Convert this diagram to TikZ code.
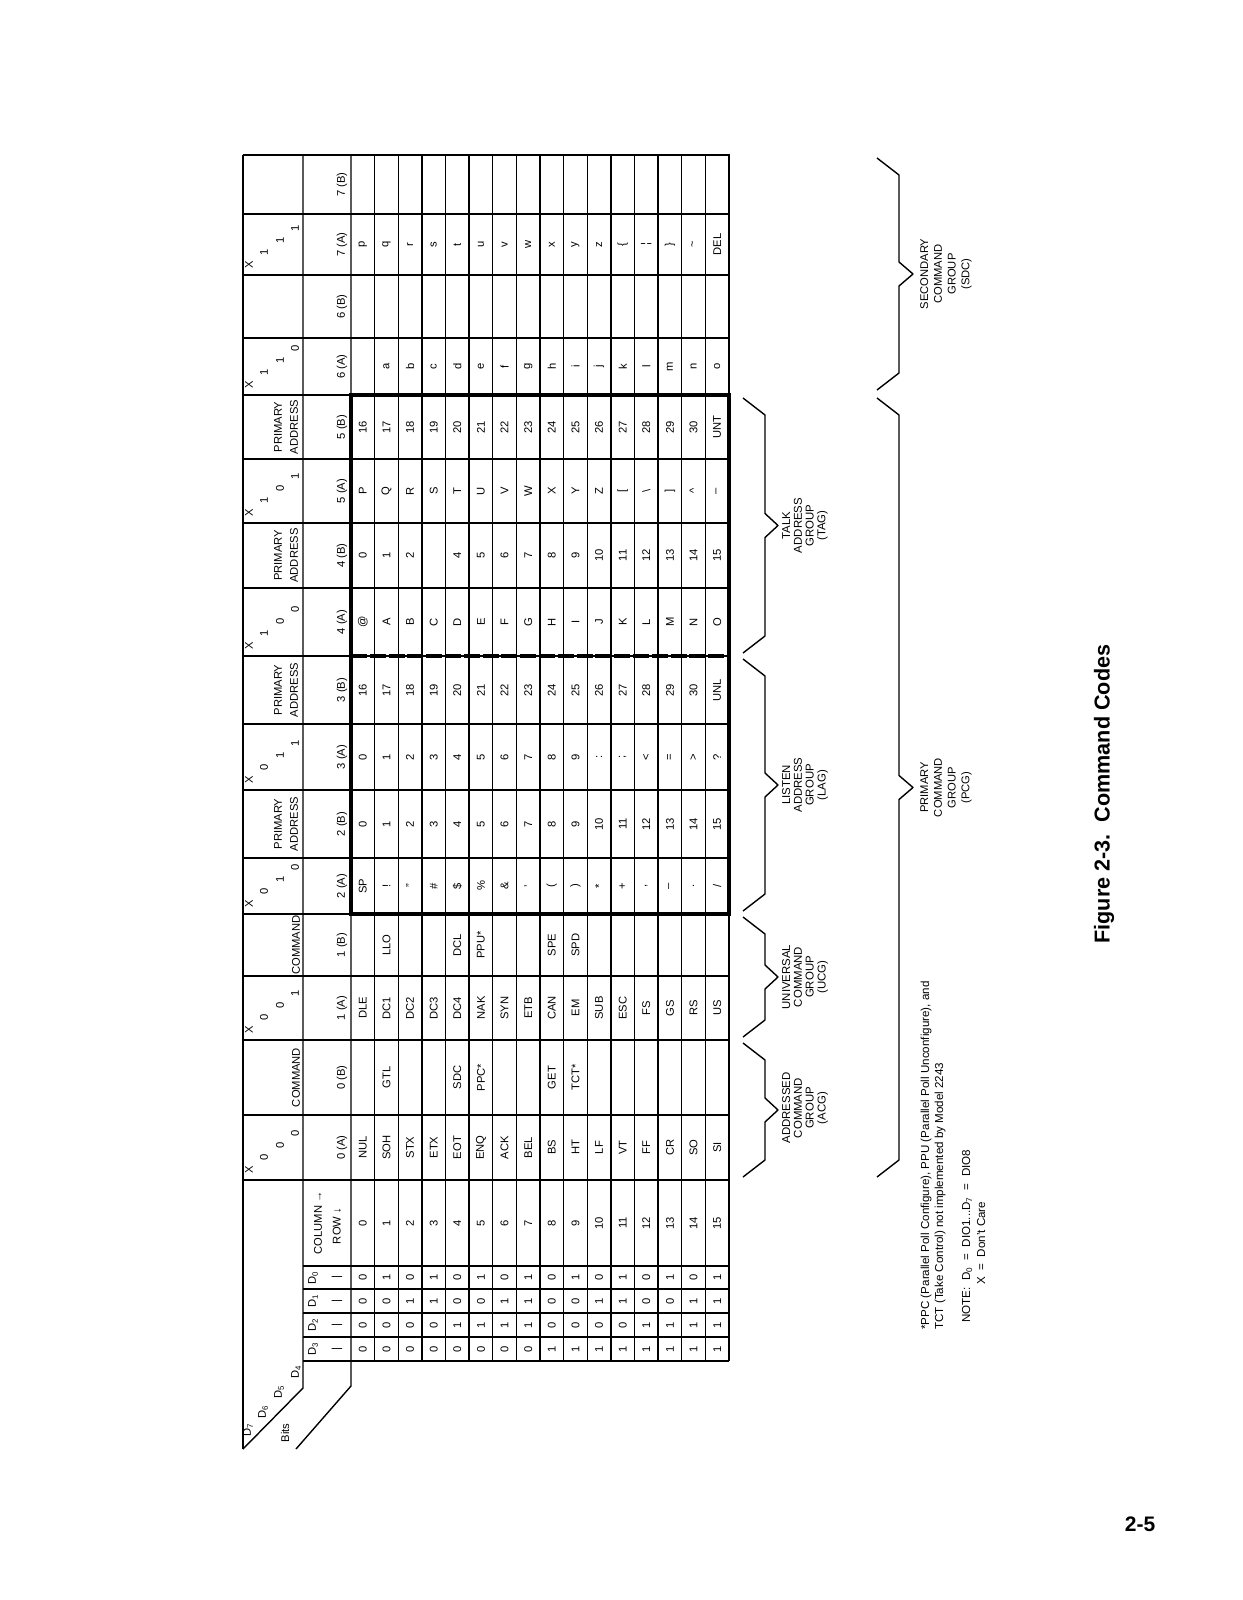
\documentclass[tikz,border=0pt]{standalone}
\usepackage{fontspec}
\setmainfont{Liberation Sans}
\begin{document}
\begin{tikzpicture}[x=0.5pt,y=-0.5pt,
  grid/.style={line width=0.7pt},
  boldline/.style={line width=1.7pt},
  txt/.style={rotate=90, inner sep=0pt, font=\fontsize{5.6}{6.6}\selectfont},
  hdr/.style={rotate=90, inner sep=0pt, align=center, font=\fontsize{5.6}{8}\selectfont},
  brlabel/.style={rotate=90, inner sep=0pt, align=center, font=\fontsize{5.7}{5.9}\selectfont},
  brlabelbig/.style={rotate=90, inner sep=0pt, align=center, font=\fontsize{5.6}{6.9}\selectfont},
  note/.style={rotate=90, inner sep=0pt, anchor=west, font=\fontsize{5.8}{6.5}\selectfont},
  bracestyle/.style={line width=0.7pt, line join=round}]
\fill[white] (0,0) rectangle (1242,1600);
\useasboundingbox (0,0) rectangle (1242,1600);

% ---------- grid ----------
\draw[grid] (243,155) -- (729,155) -- (729,1361);
\draw[grid] (243,155) -- (243,1449);
\draw[grid] (303,155) -- (303,1388) -- (243,1449);
\draw[grid] (351,155) -- (351,1386) -- (296,1449);
\foreach \k in {1,...,15} \draw[grid] ({351+23.625*\k},155) -- ({351+23.625*\k},1361);
\foreach \y in {214,275,338,395,459,523,588,656,724,790,858,914,976,1040,1115,1180}
  \draw[grid] (243,\y) -- (729,\y);
\foreach \y in {1266,1289,1313,1337,1361} \draw[grid] (303,\y) -- (729,\y);
% bold box
\draw[boldline] (351,395) rectangle (729,914);
\draw[boldline, dash pattern=on 8pt off 1.4pt] (351,656) -- (729,656);

% ---------- header row 1 ----------
\foreach \yb/\a/\b/\c in {1180/0/0/0,1040/0/0/1,914/0/1/0,790/0/1/1,656/1/0/0,523/1/0/1,395/1/1/0,275/1/1/1}{
  \node[txt] at (249,\yb-10) {X};
  \node[txt] at (264,\yb-23) {\a};
  \node[txt] at (280,\yb-35) {\b};
  \node[txt] at (295,\yb-47) {\c};
}
\node[txt] at (296,1077.5) {COMMAND};
\node[txt] at (296,945) {COMMAND};
\foreach \yc in {824,690,555.5,427}
  \node[hdr] at (286,\yc) {PRIMARY\\ADDRESS};

% ---------- header row 2 ----------
\foreach \lab/\yc in {7 (B)/184.5,7 (A)/244.5,6 (B)/306.5,6 (A)/366.5,5 (B)/427,5 (A)/491,4 (B)/555.5,4 (A)/622,3 (B)/690,3 (A)/757,2 (B)/824,2 (A)/886,1 (B)/945,1 (A)/1008,0 (B)/1077.5,0 (A)/1147.5}
  \node[txt] at (342,\yc) {\lab};
\node[txt] at (318,1223) {COLUMN →};
\node[txt] at (337,1226) {ROW ↓};
\foreach \d/\yc in {0/1277.5,1/1301,2/1325,3/1349}{
  \node[txt] at (313,\yc) {D\textsubscript{\d}};
  \node[txt] at (337,\yc) {|};
}
% bits corner
\node[txt] at (248,1430) {D\textsubscript{7}};
\node[txt] at (263,1412) {D\textsubscript{6}};
\node[txt] at (279,1392) {D\textsubscript{5}};
\node[txt] at (296,1372) {D\textsubscript{4}};
\node[txt] at (285,1433) {Bits};

% ---------- body ----------
\foreach \i in {0,...,15}{
  \pgfmathsetmacro\xr{362.8125+23.625*\i}
  \pgfmathtruncatemacro\bitA{mod(\i,2)}
  \pgfmathtruncatemacro\bitB{mod(floor(\i/2),2)}
  \pgfmathtruncatemacro\bitC{mod(floor(\i/4),2)}
  \pgfmathtruncatemacro\bitD{mod(floor(\i/8),2)}
  \node[txt] at (\xr,1223) {\i};
  \node[txt] at (\xr,1277.5) {\bitA};
  \node[txt] at (\xr,1301) {\bitB};
  \node[txt] at (\xr,1325) {\bitC};
  \node[txt] at (\xr,1349) {\bitD};
}
% 0(A)
\foreach \t [count=\i from 0] in {NUL,SOH,STX,ETX,EOT,ENQ,ACK,BEL,BS,HT,LF,VT,FF,CR,SO,SI}
  \node[txt] at ({362.8125+23.625*\i},1147.5) {\t};
% 0(B)
\foreach \i/\t in {1/GTL,4/SDC,5/PPC*,8/GET,9/TCT*}
  \node[txt] at ({362.8125+23.625*\i},1077.5) {\t};
% 1(A)
\foreach \t [count=\i from 0] in {DLE,DC1,DC2,DC3,DC4,NAK,SYN,ETB,CAN,EM,SUB,ESC,FS,GS,RS,US}
  \node[txt] at ({362.8125+23.625*\i},1008) {\t};
% 1(B)
\foreach \i/\t in {1/LLO,4/DCL,5/PPU*,8/SPE,9/SPD}
  \node[txt] at ({362.8125+23.625*\i},945) {\t};
% 2(A)
\foreach \i/\t in {0/SP,1/!,2/",3/\#,4/\$,5/\%,6/\&,7/',8/{(},9/{)},10/*,11/+,12/{,},13/{–},14/.,15/{/}}
  \node[txt] at ({362.8125+23.625*\i},886) {\t};
% 2(B)
\foreach \i in {0,...,15}
  \node[txt] at ({362.8125+23.625*\i},824) {\i};
% 3(A)
\foreach \i/\t in {0/0,1/1,2/2,3/3,4/4,5/5,6/6,7/7,8/8,9/9,10/{:},11/{;},12/{<},13/{=},14/{>},15/{?}}
  \node[txt] at ({362.8125+23.625*\i},757) {\t};
% 3(B)
\foreach \i in {0,...,14}{
  \pgfmathtruncatemacro\v{\i+16}
  \node[txt] at ({362.8125+23.625*\i},690) {\v};
}
\node[txt] at ({362.8125+23.625*15},690) {UNL};
% 4(A)
\foreach \t [count=\i from 0] in {@,A,B,C,D,E,F,G,H,I,J,K,L,M,N,O}
  \node[txt] at ({362.8125+23.625*\i},622) {\t};
% 4(B)
\foreach \i in {0,1,2,4,5,6,7,8,9,10,11,12,13,14,15}
  \node[txt] at ({362.8125+23.625*\i},555.5) {\i};
% 5(A)
\foreach \i/\t in {0/P,1/Q,2/R,3/S,4/T,5/U,6/V,7/W,8/X,9/Y,10/Z,11/{[},12/{\textbackslash},13/{]},14/{\textasciicircum},15/{–}}
  \node[txt] at ({362.8125+23.625*\i},491) {\t};
% 5(B)
\foreach \i in {0,...,14}{
  \pgfmathtruncatemacro\v{\i+16}
  \node[txt] at ({362.8125+23.625*\i},427) {\v};
}
\node[txt] at ({362.8125+23.625*15},427) {UNT};
% 6(A)
\foreach \t [count=\i from 1] in {a,b,c,d,e,f,g,h,i,j,k,l,m,n,o}
  \node[txt] at ({362.8125+23.625*\i},366.5) {\t};
% 7(A)
\foreach \i/\t in {0/p,1/q,2/r,3/s,4/t,5/u,6/v,7/w,8/x,9/y,10/z,11/{\{},12/{¦},13/{\}},14/{\textasciitilde},15/DEL}
  \node[txt] at ({362.8125+23.625*\i},244.5) {\t};

% ---------- braces ----------
\newcommand\grpbrace[5]{%
  \draw[bracestyle] (#3,#1) -- (#4,#1+17) -- (#4,{(#1+#2)/2-12}) -- (#5,{(#1+#2)/2})
    -- (#4,{(#1+#2)/2+12}) -- (#4,#2-17) -- (#3,#2);}
\grpbrace{398}{653}{743}{765}{778}
\grpbrace{659}{911}{743}{765}{778}
\grpbrace{917}{1037}{743}{765}{778}
\grpbrace{1043}{1177}{743}{765}{778}
\grpbrace{398}{1177}{877}{899}{913}
\grpbrace{158}{390}{877}{899}{913}
\node[brlabel] at (805,525.5) {TALK\\ADDRESS\\GROUP\\(TAG)};
\node[brlabel] at (805,785) {LISTEN\\ADDRESS\\GROUP\\(LAG)};
\node[brlabel] at (805,977) {UNIVERSAL\\COMMAND\\GROUP\\(UCG)};
\node[brlabel] at (805,1108) {ADDRESSED\\COMMAND\\GROUP\\(ACG)};
\node[brlabelbig] at (946,787.5) {PRIMARY\\COMMAND\\GROUP\\(PCG)};
\node[brlabelbig] at (946,274) {SECONDARY\\COMMAND\\GROUP\\(SDC)};

% ---------- notes ----------
\node[note] at (926,1330) {*PPC (Parallel Poll Configure), PPU (Parallel Poll Unconfigure), and};
\node[note] at (940,1330) {TCT (Take Control) not implemented by Model 2243};
\node[note] at (967,1323) {NOTE:\ \ D\textsubscript{0}\ \ =\ \ DIO1...D\textsubscript{7}\ \ =\ \ DIO8};
\node[note] at (981,1285) {X\ \ =\ \ Don't Care};

% ---------- title ----------
\node[rotate=90, inner sep=0pt, font=\bfseries\fontsize{10.8}{12}\selectfont] at (1104,794) {Figure 2-3.\ \ Command Codes};
\node[inner sep=0pt, font=\bfseries\fontsize{10.5}{12}\selectfont] at (1140,1524) {2-5};
\end{tikzpicture}
\end{document}
